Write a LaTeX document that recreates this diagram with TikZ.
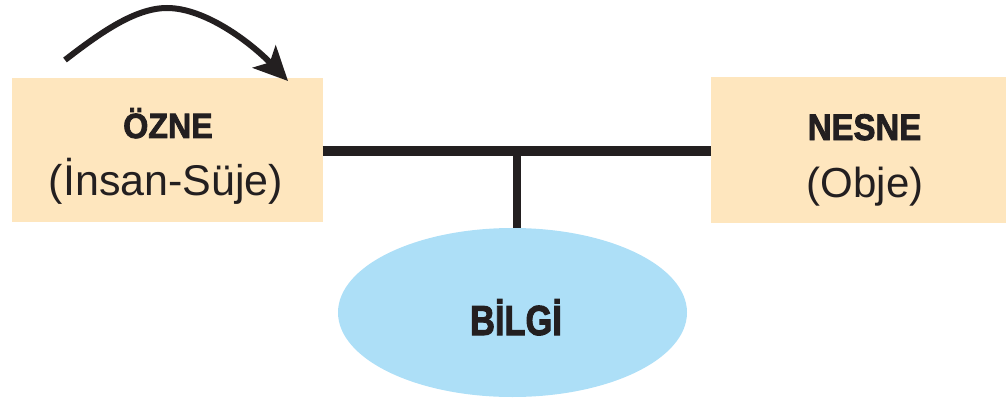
\documentclass[tikz,border=0pt]{standalone}
\usepackage{fontspec}
\setmainfont{Liberation Sans}
\newfontfamily\heavyfont{Liberation Sans}[UprightFont={* Bold},FakeBold=2.5]
\usetikzlibrary{arrows.meta,shapes.geometric}
\definecolor{boxfill}{HTML}{FEE6BE}
\definecolor{ellfill}{HTML}{ADDFF7}
\definecolor{ink}{HTML}{231F20}
\tikzset{
  boxnode/.style={draw=none,fill=boxfill,inner sep=0pt,outer sep=0pt},
  titletext/.style={anchor=base,inner sep=0pt,text=ink,font=\heavyfont\fontsize{35}{39}\selectfont},
  subtext/.style={anchor=base,inner sep=0pt,text=ink,font=\fontsize{43}{47}\selectfont},
  conn/.style={draw=ink,line width=10pt},
}
\begin{document}
\begin{tikzpicture}[x=1pt,y=-1pt]
\useasboundingbox (0,0) rectangle (1006,401);
% boxes
\node[boxnode,minimum width=311pt,minimum height=144pt] (ozne) at (167,150) {};
\node[boxnode,minimum width=295pt,minimum height=146pt] (nesne) at (858.5,150) {};
% ellipse
\node[ellipse,fill=ellfill,inner sep=0pt,outer sep=0pt,minimum width=349pt,minimum height=169pt] (bilgi) at (512.5,312.5) {};
% texts
\node[titletext] (oznet) at (168,138) {\scalebox{0.92}[1]{ÖZNE}};
\node[subtext] (ozneb) at (166,195) {(İnsan-Süje)};
\node[titletext,font=\heavyfont\fontsize{37}{41}\selectfont] (nesnet) at (864.5,140) {\scalebox{0.89}[1]{NESNE}};
\node[subtext,font=\fontsize{42}{46}\selectfont] (nesneb) at (865,197) {(Obje)};
\node[anchor=base,inner sep=0pt,text=ink] (bilgit) at (516,335) {\scalebox{0.82}[1]{\heavyfont\fontsize{42}{46}\selectfont BİLGİ}};
% connectors
\coordinate (junc) at (516.5,150.5);
\draw[conn] (ozne.east |- junc) -- (nesne.west |- junc);
\draw[draw=ink,line width=8pt] (junc) -- (junc |- bilgi.north);
% arrow
\coordinate (astart) at (65,60);
\coordinate (apeak) at (167,8);
\coordinate (aend) at (288,81);
\draw[draw=ink,line width=6pt,-{Stealth[length=34pt,width=32pt,inset=8pt]}]
  (astart) .. controls (100,33) and (135,8) .. (apeak)
  .. controls (205,8) and (250,42) .. (aend);
\end{tikzpicture}
\end{document}
